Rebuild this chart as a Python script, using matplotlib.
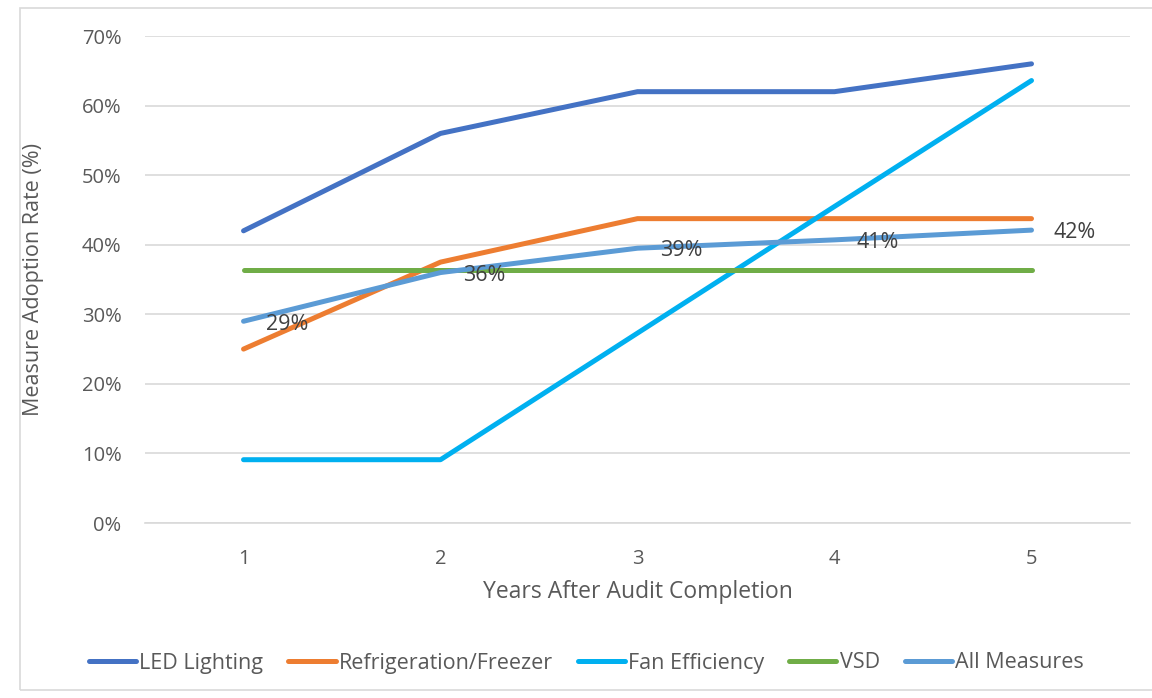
import numpy as np
import matplotlib.pyplot as plt
from matplotlib.patches import Rectangle

# data
years = [1, 2, 3, 4, 5]
led_lighting = [42.0, 56.0, 62.0, 62.0, 66.0]
refrigeration = [25.0, 37.5, 43.75, 43.75, 43.75]
fan_efficiency = [9.1, 9.1, 27.3, 45.5, 63.6]
vsd = [36.4, 36.4, 36.4, 36.4, 36.4]
all_measures = [29.0, 36.0, 39.5, 40.7, 42.1]
all_labels = ["29%", "36%", "39%", "41%", "42%"]

series_names = ["LED Lighting", "Refrigeration/Freezer", "Fan Efficiency", "VSD", "All Measures"]
colors = ["#4472C4", "#ED7D31", "#00B0F0", "#70AD47", "#5B9BD5"]

plt.rcParams['font.family'] = ['Open Sans', 'DejaVu Sans']
text_color = "#595959"

fig = plt.figure(figsize=(11.52, 6.98), dpi=100)
ax = fig.add_axes([0.1259, 0.2507, 0.855, 0.6977])

# outer chart border
fig.patches.append(Rectangle((20 / 1152, 8 / 698), 1.2, 682 / 698, transform=fig.transFigure,
                             fill=False, edgecolor="#D9D9D9", linewidth=1.2))

for vals, name, col in zip([led_lighting, refrigeration, fan_efficiency, vsd, all_measures],
                           series_names, colors):
    ax.plot(years, vals, color=col, linewidth=3.6, label=name,
            solid_capstyle='round', solid_joinstyle='round')

# data labels for the "All Measures" series
for x, y, lab in zip(years, all_measures, all_labels):
    ax.annotate(lab, (x, y), xytext=(16, -2), textcoords='offset points',
                ha='left', va='center', fontsize=15.5, color="#404040")

ax.set_xlim(0.5, 5.5)
ax.set_ylim(0, 70)
ax.set_xticks(years)
ax.set_yticks(np.arange(0, 71, 10))
ax.set_yticklabels([f"{v}%" for v in range(0, 71, 10)])
ax.tick_params(axis='both', length=0, labelsize=14.5, colors=text_color)
ax.tick_params(axis='y', pad=17)
ax.tick_params(axis='x', pad=19)
ax.grid(axis='y', color="#D9D9D9", linewidth=1.2)
ax.set_axisbelow(True)
for side in ['top', 'right', 'left']:
    ax.spines[side].set_visible(False)
ax.spines['bottom'].set_color("#D9D9D9")
ax.spines['bottom'].set_linewidth(1.2)

ax.set_xlabel("Years After Audit Completion", fontsize=16.5, color=text_color, va='center')
ax.set_ylabel("Measure Adoption Rate (%)", fontsize=15.5, color=text_color, va='center')
ax.xaxis.set_label_coords(0.5, -0.142)
ax.yaxis.set_label_coords(-0.113, 0.5)

leg = fig.legend(loc='center', bbox_to_anchor=(0.509, 1 - 663 / 698), ncol=5, frameon=False,
                 fontsize=15.5, handlelength=2.2, handletextpad=0.15, columnspacing=1.15)
for t in leg.get_texts():
    t.set_color(text_color)

fig.savefig("out.png", dpi=100)
